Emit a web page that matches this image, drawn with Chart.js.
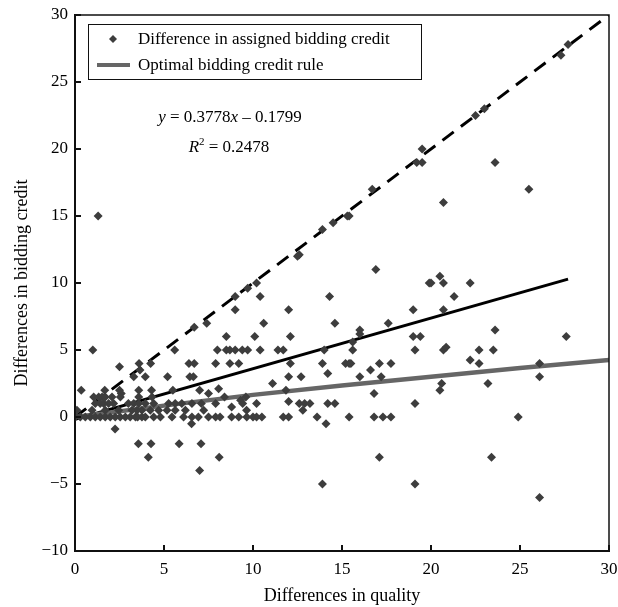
<!DOCTYPE html>
<html>
<head>
<meta charset="utf-8">
<script src="https://cdn.jsdelivr.net/npm/chart.js@4.4.1/dist/chart.umd.min.js"></script>
<style>
  html, body { margin: 0; padding: 0; background: #fff; }
  #chart { display: block; }
</style>
</head>
<body>
<canvas id="chart" width="618" height="607"></canvas>
<script>
// ── Datos ─────────────────────────────────────────────────────────────────
// Diferencia en calidad (x) y diferencia en crédito asignado (y), punto a punto
const QUALITY_DIFF = [
  1.3,
  27.7, 27.3, 23.0, 22.5, 19.5, 19.2, 19.5, 23.6, 16.7, 25.5, 20.7,
  15.3, 15.4, 14.5, 13.9, 12.6, 12.5, 16.9,
  10.2, 9.7, 9.0, 10.4, 14.3, 21.3,
  20.5, 19.9, 20.0, 20.7, 22.2,
  9.0, 12.0, 19.0, 20.7,
  10.6, 14.6, 17.6, 7.4, 6.7,
  16.0, 16.0, 23.6,
  8.5, 10.1, 12.1, 19.0, 19.4, 27.6,
  15.6,
  1.0, 5.6, 8.0, 8.5, 8.7, 9.0, 9.4, 9.7, 10.4, 11.4, 11.7, 14.0, 15.6, 19.1, 20.7, 20.85, 22.7, 23.5,
  3.6, 4.25, 6.4, 6.7, 7.9, 8.7, 9.2, 12.1, 13.9, 15.2, 15.4, 15.5, 17.1, 17.75, 22.2, 22.7, 26.1,
  2.5, 3.65, 14.2, 16.6,
  3.3, 3.95, 5.2, 6.45, 6.65, 12.0, 12.7, 16.0, 17.2, 26.1,
  11.1, 20.6, 23.2,
  0.35, 1.67, 2.5, 3.58, 4.3, 5.5, 7.0, 8.07, 11.85, 20.5,
  2.6, 7.5, 16.8,
  1.05, 1.33, 1.52, 1.7, 2.08, 2.55, 3.58, 4.33, 8.4, 9.6, 9.3,
  1.14, 1.42, 1.61, 1.89, 2.17, 3.0, 3.3, 3.58, 3.95, 4.42, 5.26, 5.63, 6.0, 6.57, 7.1, 7.9,
  9.42, 10.2, 12.0, 12.6, 12.9, 13.2, 14.2, 14.6, 19.1,
  0.11, 0.96, 1.7, 2.45, 3.2, 3.48, 3.76, 4.23, 4.7, 5.17, 5.63, 6.2, 7.23, 8.8, 9.64, 12.8,
  0.0, 0.3, 0.58, 0.86, 1.14, 1.42, 1.7, 1.98, 2.26, 2.54, 2.83, 3.1, 3.4, 3.76, 3.95, 4.42, 4.8,
  5.45, 6.1, 6.57, 6.93, 7.5, 7.9, 8.15, 8.8, 9.2, 9.65, 10.0, 10.2, 10.5, 11.7, 12.0, 13.6,
  15.4, 16.8, 17.3, 17.75, 24.9,
  3.52, 6.55, 14.1, 2.25, 3.56, 4.27, 7.08, 5.85, 8.1, 17.1, 23.4, 4.12, 7.0, 19.1, 13.9, 26.1
]
const CREDIT_DIFF = [
  15.0,
  27.8, 27.0, 23.0, 22.5, 20.0, 19.0, 19.0, 19.0, 17.0, 17.0, 16.0,
  15.0, 15.0, 14.5, 14.0, 12.1, 12.0, 11.0,
  10.0, 9.6, 9.0, 9.0, 9.0, 9.0,
  10.5, 10.0, 10.0, 10.0, 10.0,
  8.0, 8.0, 8.0, 8.0,
  7.0, 7.0, 7.0, 7.0, 6.7,
  6.5, 6.2, 6.5,
  6.0, 6.0, 6.0, 6.0, 6.0, 6.0,
  5.6,
  5.0, 5.0, 5.0, 5.0, 5.0, 5.0, 5.0, 5.0, 5.0, 5.0, 5.0, 5.0, 5.0, 5.0, 5.0, 5.2, 5.0, 5.0,
  4.0, 4.0, 4.0, 4.0, 4.0, 4.0, 4.0, 4.0, 4.0, 4.0, 4.0, 4.0, 4.0, 4.0, 4.25, 4.0, 4.0,
  3.75, 3.5, 3.25, 3.5,
  3.0, 3.0, 3.0, 3.0, 3.0, 3.0, 3.0, 3.0, 3.0, 3.0,
  2.5, 2.5, 2.5,
  2.0, 2.0, 2.0, 2.0, 2.0, 2.0, 2.0, 2.1, 2.0, 2.0,
  1.75, 1.75, 1.75,
  1.5, 1.5, 1.5, 1.5, 1.5, 1.5, 1.5, 1.5, 1.5, 1.5, 1.25,
  1.0, 1.0, 1.0, 1.0, 1.0, 1.0, 1.0, 1.0, 1.0, 1.0, 1.0, 1.0, 1.0, 1.0, 1.0, 1.0,
  1.0, 1.0, 1.15, 1.0, 1.0, 1.0, 1.0, 1.0, 1.0,
  0.5, 0.5, 0.5, 0.5, 0.5, 0.5, 0.5, 0.5, 0.5, 0.5, 0.5, 0.5, 0.5, 0.75, 0.5, 0.5,
  0, 0, 0, 0, 0, 0, 0, 0, 0, 0, 0, 0, 0, 0, 0, 0, 0,
  0, 0, 0, 0, 0, 0, 0, 0, 0, 0, 0, 0, 0, 0, 0, 0, 0,
  0, 0, 0, 0, 0,
  -0.5, -0.5, -0.9, -2, -2, -2, -2, -3, -3, -3, -3, -4, -5, -5, -6, -8
]

// Líneas: 45° (discontinua), regresión lineal y regla óptima
const DIAG_X = [0, 30]
const DIAG_Y = [0, 30]
const FIT_X = [0, 27.7]
const FIT_Y = [-0.18, 10.29]
const OPTIMAL_X = [0, 5, 10, 15, 20, 25, 30]
const OPTIMAL_Y = [0, 0.85, 1.65, 2.35, 3.0, 3.65, 4.25]

const X_TICKS = [0, 5, 10, 15, 20, 25, 30]
const Y_TICKS = [-10, -5, 0, 5, 10, 15, 20, 25, 30]

const SERIES_LABELS = ["Difference in assigned bidding credit", "Optimal bidding credit rule"]

const SERIF = "'Liberation Serif', 'Times New Roman', serif"
const DOT = "#3d3d3d"
const GREY = "#666666"

const zip = (xs, ys) => xs.map((x, i) => ({ x, y: ys[i] }))

// ── Marco y marcas de escala hacia dentro ─────────────────────────────────
const innerTicks = {
  id: "innerTicks",
  afterDatasetsDraw(chart) {
    const { ctx, chartArea: a, scales } = chart
    ctx.save()
    ctx.strokeStyle = "#111"
    ctx.lineWidth = 1.5
    ctx.strokeRect(a.left, a.top, a.right - a.left, a.bottom - a.top)
    ctx.lineWidth = 2
    ctx.beginPath()
    scales.x.ticks.forEach(t => {
      const px = Math.round(scales.x.getPixelForValue(t.value))
      ctx.moveTo(px, a.bottom)
      ctx.lineTo(px, a.bottom - 6)
    })
    scales.y.ticks.forEach(t => {
      const py = Math.round(scales.y.getPixelForValue(t.value))
      ctx.moveTo(a.left, py)
      ctx.lineTo(a.left + 6, py)
    })
    ctx.stroke()
    ctx.restore()
  }
}

// ── Leyenda enmarcada y ecuación de la regresión ──────────────────────────
const boxedLegend = {
  id: "boxedLegend",
  afterDraw(chart) {
    const { ctx } = chart
    ctx.save()
    ctx.fillStyle = "#fff"
    ctx.fillRect(88, 24, 334, 56)
    ctx.strokeStyle = "#111"
    ctx.lineWidth = 1
    ctx.strokeRect(88.5, 24.5, 333, 55)

    ctx.font = "17px " + SERIF
    ctx.textBaseline = "middle"
    ctx.textAlign = "left"

    // entrada 1: rombo
    ctx.fillStyle = DOT
    ctx.beginPath()
    ctx.moveTo(113, 35); ctx.lineTo(117, 39); ctx.lineTo(113, 43); ctx.lineTo(109, 39)
    ctx.closePath(); ctx.fill()
    ctx.fillStyle = "#000"
    ctx.fillText(SERIES_LABELS[0], 138, 40)

    // entrada 2: línea gris
    ctx.strokeStyle = GREY
    ctx.lineWidth = 4
    ctx.beginPath(); ctx.moveTo(97, 65); ctx.lineTo(130, 65); ctx.stroke()
    ctx.fillText(SERIES_LABELS[1], 138, 66)

    // ecuación
    drawParts(ctx, [["y", true], [" = 0.3778", false], ["x", true], [" – 0.1799", false]], 230, 118)
    drawParts(ctx, [["R", true], ["2", "sup"], [" = 0.2478", false]], 229, 148)
    ctx.restore()
  }
}

function drawParts(ctx, parts, cx, cy) {
  const fontFor = p => p === "sup" ? "11px " + SERIF : (p ? "italic 17px " : "17px ") + SERIF
  let total = 0
  parts.forEach(([t, p]) => { ctx.font = fontFor(p); total += ctx.measureText(t).width })
  let x = cx - total / 2
  ctx.textAlign = "left"
  ctx.textBaseline = "middle"
  ctx.fillStyle = "#000"
  parts.forEach(([t, p]) => {
    ctx.font = fontFor(p)
    ctx.fillText(t, x, p === "sup" ? cy - 6 : cy)
    x += ctx.measureText(t).width
  })
}

const tickFont = { family: SERIF, size: 17 }
const titleFont = { family: SERIF, size: 18 }

new Chart(document.getElementById("chart"), {
  data: {
    datasets: [
      {
        type: "scatter",
        label: SERIES_LABELS[0],
        data: zip(QUALITY_DIFF, CREDIT_DIFF),
        pointStyle: "rectRot",
        pointRadius: 4.5,
        backgroundColor: DOT,
        borderWidth: 0,
        order: 0
      },
      {
        type: "line",
        label: "45°",
        data: zip(DIAG_X, DIAG_Y),
        borderColor: "#000",
        borderWidth: 3,
        borderDash: [14, 9],
        pointRadius: 0,
        order: 2
      },
      {
        type: "line",
        label: "fit",
        data: zip(FIT_X, FIT_Y),
        borderColor: "#000",
        borderWidth: 3,
        pointRadius: 0,
        order: 2
      },
      {
        type: "line",
        label: SERIES_LABELS[1],
        data: zip(OPTIMAL_X, OPTIMAL_Y),
        borderColor: GREY,
        borderWidth: 4.5,
        pointRadius: 0,
        order: 1
      }
    ]
  },
  options: {
    responsive: false,
    animation: false,
    layout: { padding: { top: 15, right: 9, left: 0, bottom: 0 } },
    plugins: {
      legend: { display: false },
      tooltip: { enabled: false }
    },
    scales: {
      x: {
        type: "linear",
        min: 0, max: 30,
        afterBuildTicks: s => { s.ticks = X_TICKS.map(v => ({ value: v })) },
        afterFit: s => { s.height = 56; s.paddingLeft = 0; s.paddingRight = 0 },
        grid: { display: false, drawTicks: false },
        border: { display: true, color: "#111", width: 2 },
        ticks: { font: tickFont, color: "#000", padding: 8, maxRotation: 0,
                 callback: v => String(v) },
        title: { display: true, text: "Differences in quality", font: titleFont, color: "#000",
                 padding: { top: 0, bottom: 0 } }
      },
      y: {
        type: "linear",
        min: -10, max: 30,
        afterBuildTicks: s => { s.ticks = Y_TICKS.map(v => ({ value: v })) },
        afterFit: s => { s.width = 75; s.paddingTop = 0; s.paddingBottom = 0 },
        grid: { display: false, drawTicks: false },
        border: { display: true, color: "#111", width: 2 },
        ticks: { font: tickFont, color: "#000", padding: 7,
                 callback: v => String(v).replace("-", "−") },
        title: { display: true, text: "Differences in bidding credit", font: titleFont, color: "#000",
                 padding: { top: 11, bottom: 0 } }
      }
    }
  },
  plugins: [innerTicks, boxedLegend]
})
</script>
</body>
</html>
